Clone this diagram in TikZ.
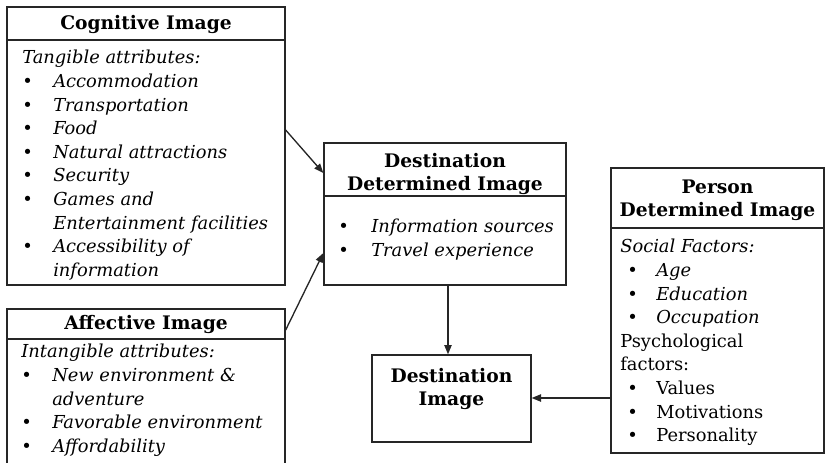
\documentclass[tikz,border=0pt]{standalone}
\usepackage{fontspec}
\setmainfont{DejaVu Serif}
\usetikzlibrary{arrows.meta}

\newcommand{\bul}[1][23.25pt]{\makebox[#1][l]{\textbullet}}
\newcommand{\cont}[1][23.25pt]{\hspace*{#1}}

\begin{document}
\begin{tikzpicture}[x=0.75pt,y=-0.75pt,
    box/.style={draw=black!85, line width=1pt},
    title/.style={font=\fontsize{14}{17.25}\selectfont\bfseries, align=center, inner sep=0pt},
    body/.style={font=\fontsize{13.4}{17.7}\selectfont, align=left, inner sep=0pt, anchor=north west},
    ibody/.style={body, font=\fontsize{13.4}{17.7}\selectfont\itshape},
    arr/.style={draw=black!85, line width=1pt, -{Triangle[length=7pt,width=5.5pt]}}]

\clip (0,0) rectangle (826,462);

% boxes
\node[box, minimum width=208.5pt, minimum height=208.5pt] (cog) at (146,146) {};
\node[box, minimum width=208.5pt, minimum height=136.5pt] (aff) at (146,400) {};
\node[box, minimum width=181.5pt, minimum height=106.5pt] (ddi) at (445,214) {};
\node[box, minimum width=119.25pt, minimum height=65.25pt] (di) at (451.5,398.5) {};
\node[box, minimum width=159.75pt, minimum height=213.75pt] (pdi) at (717.5,310.5) {};

% title rules
\draw[box] (cog.west |- 0,40) -- (cog.east |- 0,40);
\draw[box] (aff.west |- 0,339) -- (aff.east |- 0,339);
\draw[box] (ddi.west |- 0,196) -- (ddi.east |- 0,196);
\draw[box] (pdi.west |- 0,228) -- (pdi.east |- 0,228);

% titles
\node[title] (cogT) at (146,24) {Cognitive Image};
\node[title] (affT) at (146,324) {Affective Image};
\node[title] (ddiT) at (445,173.5) {Destination\\Determined Image};
\node[title] (diT) at (451.5,389) {Destination\\Image};
\node[title] (pdiT) at (717.5,200) {Person\\Determined Image};

% contents
\node[ibody] (cogB) at (22,50) {Tangible attributes:\\
  \bul Accommodation\\
  \bul Transportation\\
  \bul Food\\
  \bul Natural attractions\\
  \bul Security\\
  \bul Games and\\
  \cont Entertainment facilities\\
  \bul Accessibility of\\
  \cont information};
\node[ibody] (affB) at (21,344) {Intangible attributes:\\
  \bul New environment \&\\
  \cont adventure\\
  \bul Favorable environment\\
  \bul Affordability};
\node[ibody] (ddiB) at (338,219) {\bul[24.75pt]Information sources\\
  \bul[24.75pt]Travel experience};
\node[body] (pdiB) at (620,239) {\textit{Social Factors:}\\
  \hspace*{5.25pt}\bul[21.75pt]\textit{Age}\\
  \hspace*{5.25pt}\bul[21.75pt]\textit{Education}\\
  \hspace*{5.25pt}\bul[21.75pt]\textit{Occupation}\\
  Psychological\\
  factors:\\
  \hspace*{5.25pt}\bul[21.75pt]Values\\
  \hspace*{5.25pt}\bul[21.75pt]Motivations\\
  \hspace*{5.25pt}\bul[21.75pt]Personality};

% links
\draw[arr] (cog.east |- 0,130) -- (ddi.west |- 0,173);
\draw[arr] (aff.east |- 0,330) -- (ddi.west |- 0,253);
\draw[arr] (ddi.south -| 448,0) -- (di.north -| 448,0);
\draw[arr] (pdi.west |- 0,398) -- (di.east |- 0,398);
\end{tikzpicture}
\end{document}
